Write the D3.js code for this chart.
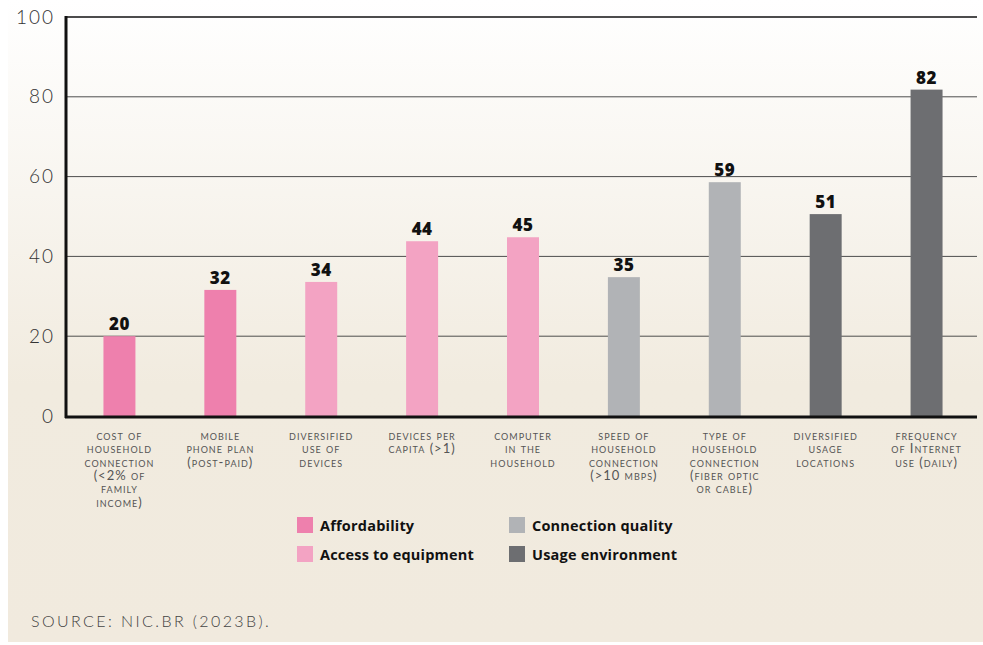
<!DOCTYPE html>
<meta charset="utf-8">
<style>
	body { margin: 0; background: #fff; }
	svg { display: block; }
	text { font-family: "Lato", "Open Sans", sans-serif; }
</style>
<script src="https://d3js.org/d3.v7.min.js"></script>
<body>
<script>
	// chart data
	var categories = ["cost", "mobile", "divUse", "devices", "computer", "speed", "type", "divLoc", "freq"];
	var labelLines = [
		["cost of", "household", "connection", "(<2% of", "family", "income)"],
		["mobile", "phone plan", "(post-paid)"],
		["diversified", "use of", "devices"],
		["devices per", "capita (>1)"],
		["computer", "in the", "household"],
		["speed of", "household", "connection", "(>10 mbps)"],
		["type of", "household", "connection", "(fiber optic", "or cable)"],
		["diversified", "usage", "locations"],
		["frequency", "of Internet", "use (daily)"]
	];
	var values = [20, 31.6, 33.6, 43.8, 44.8, 34.8, 58.6, 50.6, 81.8];
	var groups = ["Affordability", "Affordability", "Access to equipment", "Access to equipment", "Access to equipment",
		"Connection quality", "Connection quality", "Usage environment", "Usage environment"];
	var groupNames = ["Affordability", "Access to equipment", "Connection quality", "Usage environment"];
	var groupColors = ["#ee80ad", "#f3a3c3", "#b1b3b6", "#6d6e71"];
	var yTicks = [0, 20, 40, 60, 80, 100];

	var width = 983, height = 645;
	var svg = d3.select("body").append("svg")
		.attr("width", width)
		.attr("height", height);

	// background panel, white at top fading to beige
	var grad = svg.append("defs").append("linearGradient")
		.attr("id", "bg").attr("x1", 0).attr("y1", 0).attr("x2", 0).attr("y2", 1);
	grad.append("stop").attr("offset", "0").attr("stop-color", "#ffffff");
	grad.append("stop").attr("offset", "0.6").attr("stop-color", "#f1ebdf");
	grad.append("stop").attr("offset", "1").attr("stop-color", "#f1eade");
	svg.append("rect")
		.attr("x", 8).attr("y", 0)
		.attr("width", width - 8).attr("height", 642)
		.attr("fill", "url(#bg)");

	var x = d3.scaleBand()
		.domain(categories)
		.range([69, 977])
		.paddingInner(0.683)
		.paddingOuter(0.683 / 2);

	var y = d3.scaleLinear()
		.domain([0, 100])
		.range([416, 17]);

	var color = d3.scaleOrdinal().domain(groupNames).range(groupColors);

	// gridlines
	svg.append("g")
		.selectAll("line")
		.data(yTicks.filter(function(d) { return d > 0 && d < 100; }))
		.enter().append("line")
		.attr("x1", 66).attr("x2", 977)
		.attr("y1", function(d) { return y(d); })
		.attr("y2", function(d) { return y(d); })
		.attr("stroke", "#4d4d4d")
		.attr("stroke-width", 1);

	// top border line
	svg.append("line")
		.attr("x1", 66).attr("x2", 977)
		.attr("y1", y(100)).attr("y2", y(100))
		.attr("stroke", "#111").attr("stroke-width", 1.5);

	// y axis
	var yAxis = svg.append("g")
		.attr("transform", "translate(66,0)")
		.call(d3.axisLeft(y).tickValues(yTicks).tickSize(0).tickPadding(11));
	yAxis.select(".domain").remove();
	yAxis.selectAll("text")
		.attr("fill", "#333")
		.style("font-size", "19px")
		.style("font-weight", 300)
		.style("letter-spacing", "2px")
		.style("font-family", "Lato, sans-serif");

	// bars
	svg.append("g")
		.selectAll("rect")
		.data(values)
		.enter().append("rect")
		.attr("x", function(d, i) { return x(categories[i]); })
		.attr("y", function(d) { return y(d); })
		.attr("width", x.bandwidth())
		.attr("height", function(d) { return y(0) - y(d); })
		.attr("fill", function(d, i) { return color(groups[i]); });

	// value labels
	svg.append("g")
		.selectAll("text")
		.data(values)
		.enter().append("text")
		.attr("x", function(d, i) { return x(categories[i]) + x.bandwidth() / 2; })
		.attr("y", function(d) { return y(d) - 6; })
		.attr("text-anchor", "middle")
		.style("font-family", "'Open Sans', sans-serif")
		.style("font-weight", 800)
		.style("font-size", "17px")
		.style("letter-spacing", "0.5px")
		.attr("fill", "#111")
		.text(function(d) { return Math.round(d); });

	// axis lines
	svg.append("line")
		.attr("x1", 66).attr("x2", 66)
		.attr("y1", y(100) - 1).attr("y2", 418)
		.attr("stroke", "#111").attr("stroke-width", 3);
	svg.append("line")
		.attr("x1", 65).attr("x2", 977)
		.attr("y1", 417).attr("y2", 417)
		.attr("stroke", "#111").attr("stroke-width", 3);

	// category labels (small caps)
	var cat = svg.append("g")
		.selectAll("text")
		.data(labelLines)
		.enter().append("text")
		.attr("text-anchor", "middle")
		.attr("fill", "#555")
		.style("font-size", "13px")
		.style("font-variant", "small-caps")
		.style("font-weight", 400)
		.style("letter-spacing", "1px");
	cat.selectAll("tspan")
		.data(function(d, i) { return d.map(function(s) { return { s: s, i: i }; }); })
		.enter().append("tspan")
		.attr("x", function(d) { return x(categories[d.i]) + x.bandwidth() / 2; })
		.attr("y", function(d, j) { return 440 + j * 13.3; })
		.text(function(d) { return d.s; });

	// legend
	var legend = svg.append("g")
		.selectAll("g")
		.data(groupNames)
		.enter().append("g")
		.attr("transform", function(d, i) {
			return "translate(" + (i < 2 ? 297 : 509) + "," + (517 + (i % 2) * 29) + ")";
		});
	legend.append("rect")
		.attr("width", 16).attr("height", 16)
		.attr("fill", function(d) { return color(d); });
	legend.append("text")
		.attr("x", 23).attr("y", 13.5)
		.style("font-family", "'Open Sans', sans-serif")
		.style("font-weight", 700)
		.style("font-size", "14.5px")
		.style("letter-spacing", "0.2px")
		.attr("fill", "#111")
		.text(function(d) { return d; });

	// source
	svg.append("text")
		.attr("x", 31).attr("y", 627)
		.attr("fill", "#444")
		.style("font-size", "16px")
		.style("font-weight", 300)
		.style("letter-spacing", "2.4px")
		.text("SOURCE: NIC.BR (2023B).");
</script>
</body>
